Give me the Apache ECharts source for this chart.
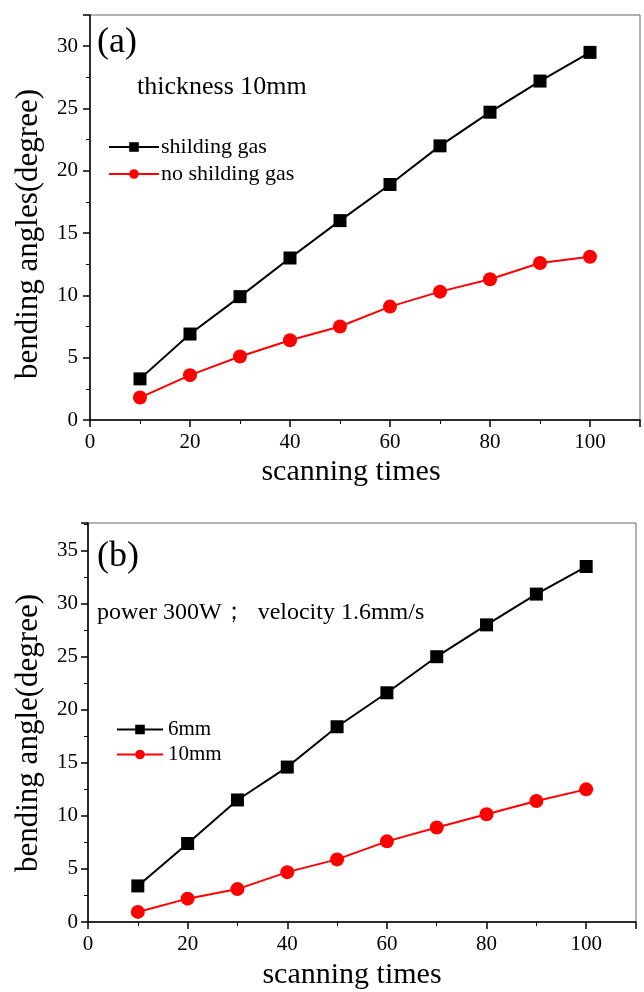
<!DOCTYPE html>
<html>
<head>
<meta charset="utf-8">
<script src="https://cdn.jsdelivr.net/npm/echarts@6/dist/echarts.min.js"></script>
<style>
  html, body { margin: 0; padding: 0; background: #fff; }
  #chart { width: 644px; height: 992px; }
</style>
</head>
<body>
<div id="chart"></div>
<script>
// scanning times
const scanTimes = [10, 20, 30, 40, 50, 60, 70, 80, 90, 100];
// panel (a)
const shildingGas = [3.3, 6.9, 9.9, 13.0, 16.0, 18.9, 22.0, 24.7, 27.2, 29.5];
const noShildingGas = [1.8, 3.6, 5.1, 6.4, 7.5, 9.1, 10.3, 11.3, 12.6, 13.1];
// panel (b)
const thick6mm = [3.4, 7.4, 11.5, 14.6, 18.4, 21.6, 25.0, 28.0, 30.9, 33.5];
const thick10mm = [0.95, 2.2, 3.1, 4.7, 5.9, 7.6, 8.9, 10.15, 11.4, 12.5];

const font = '"Liberation Serif", "DejaVu Serif", serif';

function pairs(xs, ys) {
  return xs.map((x, i) => [x, ys[i]]);
}

function xAxisOpt(gridIndex) {
  return {
    type: 'value', gridIndex: gridIndex,
    min: 0, max: 110, interval: 20,
    axisLine: { show: true, onZero: false, lineStyle: { color: '#000', width: 1.5 } },
    axisTick: { show: true, inside: false, length: 7, lineStyle: { color: '#000', width: 1.5 } },
    minorTick: { show: true, splitNumber: 2, length: 4, lineStyle: { color: '#000', width: 1 } },
    axisLabel: { fontFamily: font, fontSize: 21, color: '#000', margin: 12, showMaxLabel: false },
    splitLine: { show: false }
  };
}

function yAxisOpt(gridIndex, max, margin) {
  return {
    type: 'value', gridIndex: gridIndex,
    min: 0, max: max, interval: 5,
    axisLine: { show: true, onZero: false, lineStyle: { color: '#000', width: 1.5 } },
    axisTick: { show: true, inside: false, length: 7, lineStyle: { color: '#000', width: 1.5 } },
    minorTick: { show: true, splitNumber: 2, length: 4, lineStyle: { color: '#000', width: 1 } },
    axisLabel: { fontFamily: font, fontSize: 21, color: '#000', margin: margin, showMaxLabel: false },
    splitLine: { show: false }
  };
}

function lineSeries(name, xi, yi, data, color, symbol, size) {
  return {
    name: name, type: 'line', xAxisIndex: xi, yAxisIndex: yi,
    data: pairs(scanTimes, data),
    symbol: symbol, symbolSize: size,
    lineStyle: { color: color, width: 2 },
    itemStyle: { color: color },
    emphasis: { disabled: true },
    animation: false
  };
}

function label(x, y, text, size, align) {
  return {
    type: 'text', x: x, y: y,
    style: { text: text, font: size + 'px ' + font, fill: '#000', align: align || 'left', verticalAlign: 'middle' }
  };
}

const chart = echarts.init(document.getElementById('chart'));
chart.setOption({
  backgroundColor: '#fff',
  animation: false,
  grid: [
    { left: 90, right: 4, top: 15, bottom: 572, show: true, borderColor: '#666', borderWidth: 1, backgroundColor: 'transparent' },
    { left: 88, right: 8, top: 523, bottom: 70, show: true, borderColor: '#666', borderWidth: 1, backgroundColor: 'transparent' }
  ],
  xAxis: [xAxisOpt(0), xAxisOpt(1)],
  yAxis: [yAxisOpt(0, 32.5, 12), yAxisOpt(1, 37.6, 10)],
  legend: [
    {
      data: ['shilding gas', 'no shilding gas'],
      orient: 'vertical', left: 103, top: 131, itemWidth: 50, itemHeight: 12, itemGap: 5,
      textStyle: { fontFamily: font, fontSize: 22, color: '#000', padding: [0, 0, 0, -3] },
      selectedMode: false
    },
    {
      data: ['6mm', '10mm'],
      orient: 'vertical', left: 111, top: 714, itemWidth: 46, itemHeight: 12, itemGap: 4,
      textStyle: { fontFamily: font, fontSize: 21, color: '#000' },
      selectedMode: false
    }
  ],
  graphic: [
    label(97, 43, '(a)', 36),
    label(137, 87, 'thickness 10mm', 26),
    label(97, 557, '(b)', 36),
    label(97, 613, 'power 300W；  velocity 1.6mm/s', 24),
    label(351, 472, 'scanning times', 30, 'center'),
    label(352, 975, 'scanning times', 30, 'center'),
    { type: 'text', x: 29, y: 234, rotation: Math.PI / 2,
      style: { text: 'bending angles(degree)', font: '31px ' + font, fill: '#000', align: 'center', verticalAlign: 'middle' } },
    { type: 'text', x: 29, y: 733, rotation: Math.PI / 2,
      style: { text: 'bending angle(degree)', font: '31px ' + font, fill: '#000', align: 'center', verticalAlign: 'middle' } }
  ],
  series: [
    lineSeries('shilding gas', 0, 0, shildingGas, '#000', 'rect', 13),
    lineSeries('no shilding gas', 0, 0, noShildingGas, '#f00', 'circle', 14),
    lineSeries('6mm', 1, 1, thick6mm, '#000', 'rect', 13),
    lineSeries('10mm', 1, 1, thick10mm, '#f00', 'circle', 14)
  ]
});
</script>
</body>
</html>
